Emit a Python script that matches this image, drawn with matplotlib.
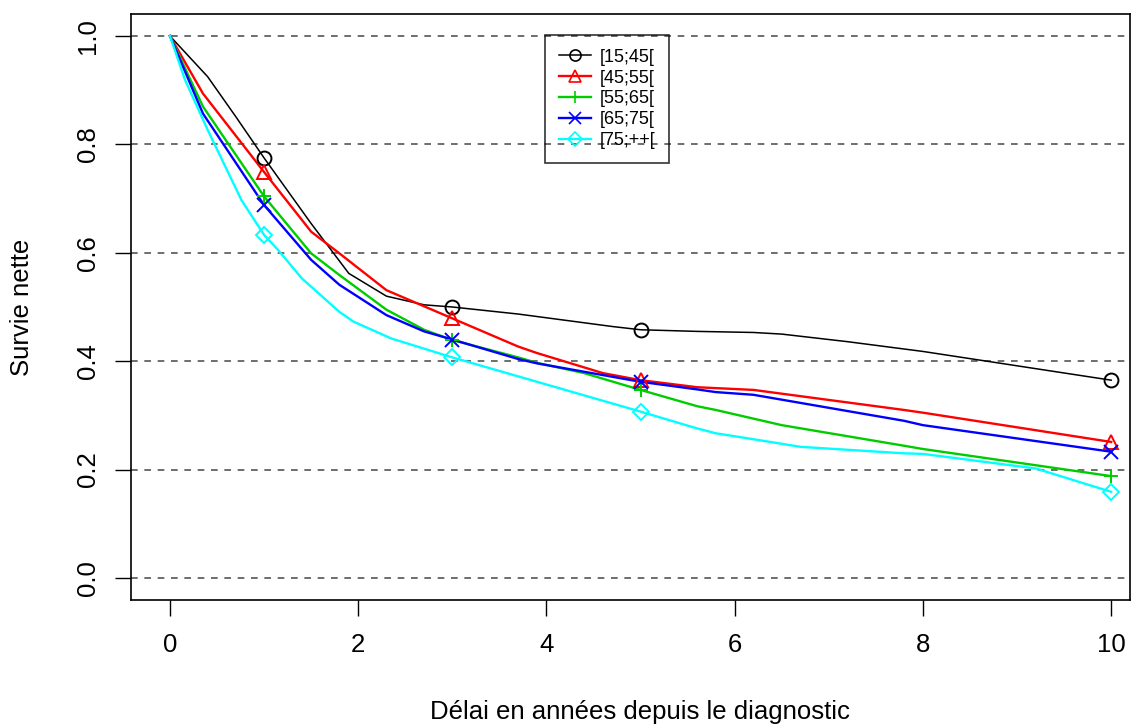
"""Survie nette par classe d'âge (recréation d'un graphique R de base)."""
import matplotlib
matplotlib.use("Agg")
import matplotlib.pyplot as plt

plt.rcParams["font.family"] = ["Liberation Sans", "DejaVu Sans"]

# ── Données ───────────────────────────────────────────────────────────────────
classes = ["[15;45[", "[45;55[", "[55;65[", "[65;75[", "[75;++["]

# délais où les marqueurs sont posés
delais_pts = [1, 3, 5, 10]
pts_15_45 = [0.775, 0.500, 0.458, 0.365]
pts_45_55 = [0.749, 0.479, 0.365, 0.251]
pts_55_65 = [0.704, 0.439, 0.347, 0.188]
pts_65_75 = [0.688, 0.440, 0.362, 0.233]
pts_75_pp = [0.633, 0.407, 0.307, 0.159]

# courbes lissées
x_15_45 = [0, 0.4, 0.7, 1, 1.5, 1.9, 2.3, 2.7, 3, 3.7, 4.7, 5, 5.6, 6.2, 6.5, 7.2, 8, 10]
y_15_45 = [1.0, 0.925, 0.851, 0.775, 0.654, 0.562, 0.520, 0.504, 0.500, 0.487,
           0.464, 0.458, 0.455, 0.453, 0.450, 0.436, 0.418, 0.365]

x_45_55 = [0, 0.35, 1, 1.5, 1.8, 2.3, 3, 3.7, 3.9, 4.6, 5, 5.6, 6.2, 7.8, 8, 10]
y_45_55 = [1.0, 0.894, 0.749, 0.639, 0.599, 0.531, 0.479, 0.427, 0.415, 0.378,
           0.365, 0.352, 0.347, 0.310, 0.305, 0.251]

x_55_65 = [0, 0.35, 1, 1.5, 1.8, 2.3, 2.7, 3, 3.7, 3.9, 4.4, 5, 5.6, 5.8, 6.5, 7.8, 8, 10]
y_55_65 = [1.0, 0.870, 0.704, 0.599, 0.559, 0.495, 0.458, 0.439, 0.407, 0.397,
           0.378, 0.347, 0.317, 0.310, 0.282, 0.244, 0.238, 0.188]

x_65_75 = [0, 0.35, 1, 1.5, 1.8, 2.3, 2.7, 3, 3.7, 3.9, 5, 5.6, 5.8, 6.2, 7.8, 8, 10]
y_65_75 = [1.0, 0.857, 0.688, 0.587, 0.541, 0.485, 0.455, 0.440, 0.404, 0.396,
           0.362, 0.348, 0.343, 0.338, 0.290, 0.282, 0.233]

x_75_pp = [0, 0.16, 0.4, 0.76, 1, 1.15, 1.4, 1.8, 1.95, 2.35, 3, 3.7, 3.9, 5,
           5.6, 5.8, 6.2, 6.7, 7.8, 8, 9.2, 10]
y_75_pp = [1.0, 0.919, 0.827, 0.697, 0.633, 0.605, 0.553, 0.491, 0.473, 0.442,
           0.407, 0.372, 0.362, 0.307, 0.276, 0.267, 0.256, 0.242, 0.230, 0.229,
           0.202, 0.159]

COULEURS = ["black", "#FF0000", "#00CD00", "#0000FF", "#00FFFF"]
MARQUEURS = ["o", "^", "+", "x", "D"]
EPAISSEURS = [1.1, 1.7, 1.7, 1.7, 1.7]

# ── Figure ────────────────────────────────────────────────────────────────────
fig = plt.figure(figsize=(11.41, 7.24), dpi=100)
ax = fig.add_axes([131 / 1141, 1 - 600 / 724, (1130 - 131) / 1141, (600 - 14) / 724])

courbes = [(x_15_45, y_15_45, pts_15_45), (x_45_55, y_45_55, pts_45_55),
           (x_55_65, y_55_65, pts_55_65), (x_65_75, y_65_75, pts_65_75),
           (x_75_pp, y_75_pp, pts_75_pp)]
for (xs, ys, pts), lab, col, mk, lw in zip(courbes, classes, COULEURS, MARQUEURS, EPAISSEURS):
    ms = 8.5 if mk == "D" else 10
    ax.plot(xs, ys, color=col, lw=lw, zorder=3)
    ax.plot(delais_pts, pts, ls="none", marker=mk, ms=ms, mfc="none",
            mec=col, mew=1.4, zorder=4)
    # élément de légende
    ax.plot([], [], color=col, lw=lw, marker=mk, ms=ms * 0.8, mfc="none",
            mec=col, mew=1.2, label=lab)

for yv in [0, 0.2, 0.4, 0.6, 0.8, 1.0]:
    ax.axhline(yv, color="#555555", lw=1.2, ls=(0, (4, 4)), zorder=2)

ax.set_xlim(-0.414, 10.2)
ax.set_ylim(-0.0406, 1.0406)
ax.set_xticks([0, 2, 4, 6, 8, 10])
ax.set_yticks([0.0, 0.2, 0.4, 0.6, 0.8, 1.0])
ax.set_yticklabels(["0.0", "0.2", "0.4", "0.6", "0.8", "1.0"], rotation=90, va="center")
ax.tick_params(direction="out", length=11.5, width=1, labelsize=18.5)
ax.tick_params(axis="x", pad=12.5)
ax.tick_params(axis="y", pad=11)
for s in ax.spines.values():
    s.set_linewidth(1.2)

# titres des axes placés comme dans le graphique R
fig.text(640 / 1141, 1 - 712 / 724, "Délai en années depuis le diagnostic",
         fontsize=18.5, ha="center", va="center")
fig.text(22 / 1141, 1 - 307 / 724, "Survie nette", fontsize=18.5,
         rotation=90, ha="center", va="center")

leg = ax.legend(loc="upper left", bbox_to_anchor=((545 - 131) / 999, 1 - (35 - 14) / 586),
                fontsize=13, frameon=True, fancybox=False, edgecolor="black",
                facecolor="none", handlelength=1.8, handletextpad=0.5,
                borderpad=0.75, labelspacing=0.22, borderaxespad=0)
leg.get_frame().set_linewidth(1.2)

fig.savefig("out.png", dpi=100)
